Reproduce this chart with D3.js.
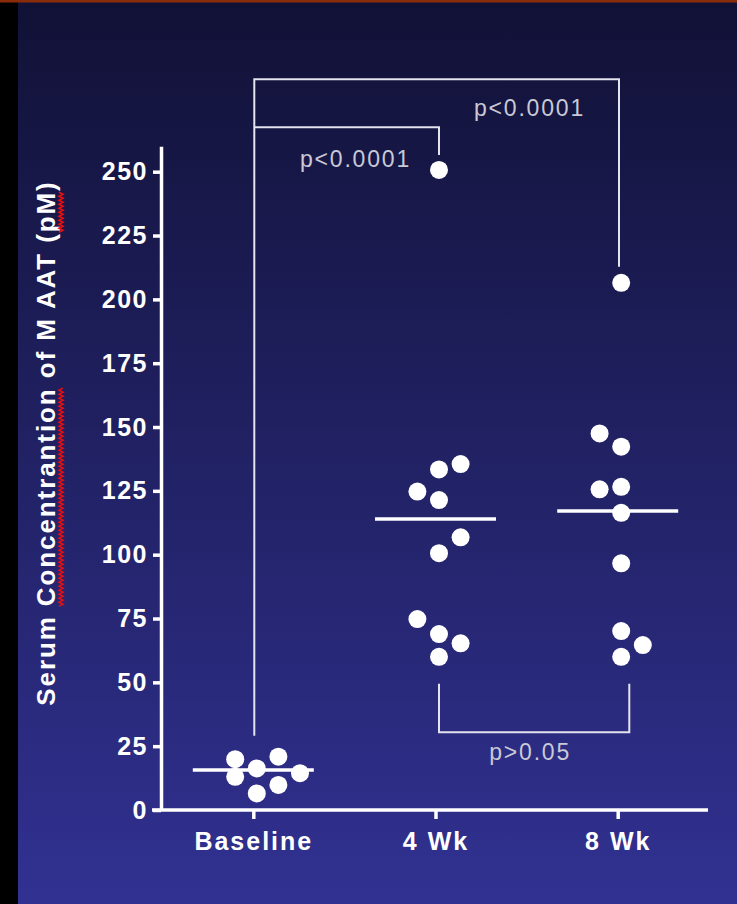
<!DOCTYPE html>
<html>
<head>
<meta charset="utf-8">
<script src="https://cdn.jsdelivr.net/npm/d3@7"></script>
<style>
  html, body { margin: 0; padding: 0; background: #000; }
  svg { display: block; }
</style>
</head>
<body>
<script>
// ---- data -------------------------------------------------------------
const categories = ["Baseline", "4 Wk", "8 Wk"];

// serum M AAT concentration (pM) per subject, with the dodge lane of each dot
const baselineValues = [19.9, 20.9, 13.0, 16.3, 14.4, 9.8, 6.5];
const baselineLanes  = [-1, 1, -1, 0, 2, 1, 0];
const week4Values = [250.7, 135.5, 133.4, 124.7, 121.4, 106.8, 100.6, 74.8, 68.9, 65.3, 60.0];
const week4Lanes  = [0, 1, 0, -1, 0, 1, 0, -1, 0, 1, 0];
const week8Values = [206.5, 147.5, 142.3, 126.6, 125.6, 116.4, 96.6, 70.1, 64.6, 60.0];
const week8Lanes  = [0, -1, 0, 0, -1, 0, 0, 0, 1, 0];

// group means drawn as horizontal bars
const groupMeans = [15.7, 114.0, 117.1];

const yTicks = [0, 25, 50, 75, 100, 125, 150, 175, 200, 225, 250];

const pLabels = ["p<0.0001", "p<0.0001", "p>0.05"];

const yTitle = "Serum Concentrantion of M AAT (pM)";

// ---- layout -----------------------------------------------------------
const W = 737, H = 904;
const svg = d3.select("body").append("svg").attr("width", W).attr("height", H);

const defs = svg.append("defs");
const grad = defs.append("linearGradient").attr("id", "bg")
  .attr("x1", 0).attr("y1", 0).attr("x2", 0).attr("y2", 1);
grad.append("stop").attr("offset", 0).attr("stop-color", "#111136");
grad.append("stop").attr("offset", 1).attr("stop-color", "#313192");

svg.append("rect").attr("width", W).attr("height", H).attr("fill", "#000");
svg.append("rect").attr("x", 18).attr("y", 0).attr("width", W - 18).attr("height", H).attr("fill", "url(#bg)");
svg.append("rect").attr("x", 0).attr("y", 0).attr("width", W).attr("height", 2.5).attr("fill", "#8a2c0a");

const axisX = 161;           // y axis position
const xAxisEnd = 708;
const x = d3.scalePoint().domain(categories).range([253.3, 617.7]);
const y = d3.scaleLinear().domain([0, 260]).range([810, 810 - 260 * 2.5532]);

const laneStep = 21.6, laneBase = 3.5, r = 9;
const groups = [
  { cat: "Baseline", values: baselineValues, lanes: baselineLanes },
  { cat: "4 Wk", values: week4Values, lanes: week4Lanes },
  { cat: "8 Wk", values: week8Values, lanes: week8Lanes }
];
const lx = (cat, lane) => x(cat) + laneBase + lane * laneStep;

const white = "#ffffff";
const bracketColor = "#e4e4ee";
const pColor = "#c9c9d6";

// ---- axes -------------------------------------------------------------
const gy = svg.append("g").attr("transform", `translate(${axisX},0)`)
  .call(d3.axisLeft(y).tickValues(yTicks).tickSize(8).tickSizeOuter(0).tickPadding(5));
gy.select(".domain").attr("stroke", white).attr("stroke-width", 3.5);
gy.selectAll(".tick line").attr("stroke", white).attr("stroke-width", 3.5);
gy.selectAll(".tick text")
  .attr("fill", white)
  .style("font-family", "'Liberation Sans', Arial, sans-serif")
  .style("font-weight", "bold")
  .style("font-size", "25px")
  .style("letter-spacing", "1.5px");

const gx = svg.append("g").attr("transform", `translate(0,${y(0)})`)
  .call(d3.axisBottom(x).tickSize(9).tickSizeOuter(0).tickPadding(13));
gx.select(".domain").remove();
gx.selectAll(".tick line").attr("stroke", white).attr("stroke-width", 3.5);
gx.selectAll(".tick text")
  .attr("fill", white)
  .style("font-family", "'Liberation Sans', Arial, sans-serif")
  .style("font-weight", "bold")
  .style("font-size", "25px")
  .style("letter-spacing", "2px");
gx.append("line")
  .attr("x1", axisX - 9).attr("x2", xAxisEnd)
  .attr("y1", 0).attr("y2", 0)
  .attr("stroke", white).attr("stroke-width", 3.5);

// y axis title with spell-check squiggles
const titleG = svg.append("g").attr("transform", "translate(55,443) rotate(-90)");
const titleText = titleG.append("text")
  .attr("text-anchor", "middle")
  .attr("fill", white)
  .style("font-family", "'Liberation Sans', Arial, sans-serif")
  .style("font-weight", "bold")
  .style("font-size", "26px")
  .style("letter-spacing", "1.9px")
  .text(yTitle);

function squiggle(word) {
  const i0 = yTitle.indexOf(word);
  const node = titleText.node();
  const a = node.getStartPositionOfChar(i0).x;
  const b = node.getEndPositionOfChar(i0 + word.length - 1).x;
  const pts = [];
  for (let t = a, k = 0; t <= b; t += 2, k++) pts.push([t, 6 + (k % 2 ? 2 : -2)]);
  titleG.append("path")
    .attr("d", d3.line()(pts))
    .attr("fill", "none")
    .attr("stroke", "#e81010")
    .attr("stroke-width", 1.6);
}
squiggle("Concentrantion");
squiggle("pM");

// ---- significance brackets -------------------------------------------
const plotTop = y(260);
const outerLevel = plotTop - 67;
const innerLevel = plotTop - 19;
const leftX = x("Baseline") + 1;
const innerRightX = lx("4 Wk", 0);
const outerRightX = x("8 Wk") + 1.3;
const bracket = d3.line();

const bracketG = svg.append("g")
  .attr("fill", "none").attr("stroke", bracketColor).attr("stroke-width", 2);

// Baseline vs 8 Wk
bracketG.append("path").attr("d", bracket([
  [leftX, y(d3.max(baselineValues)) - r - 12],
  [leftX, outerLevel],
  [outerRightX, outerLevel],
  [outerRightX, y(d3.max(week8Values)) - r - 7]
]));
// Baseline vs 4 Wk
bracketG.append("path").attr("d", bracket([
  [leftX, innerLevel],
  [innerRightX, innerLevel],
  [innerRightX, y(d3.max(week4Values)) - r - 6]
]));
// 4 Wk vs 8 Wk (below the dots)
const lowTop = y(d3.min(week4Values)) + r + 18;
const lowBottom = lowTop + 48.5;
const lowLeft = lx("4 Wk", 0);
const lowRight = x("8 Wk") + 11.6;
bracketG.append("path").attr("d", bracket([
  [lowLeft, lowTop], [lowLeft, lowBottom], [lowRight, lowBottom], [lowRight, lowTop]
]));

const pText = (sel) => sel
  .attr("fill", pColor)
  .style("font-family", "'Liberation Sans', Arial, sans-serif")
  .style("font-size", "23px")
  .style("letter-spacing", "1.8px");

svg.append("text").call(pText)
  .attr("text-anchor", "end").attr("x", innerRightX - 28).attr("y", 166.5)
  .text(pLabels[0]);
svg.append("text").call(pText)
  .attr("text-anchor", "end").attr("x", outerRightX - 34).attr("y", 116)
  .text(pLabels[1]);
svg.append("text").call(pText)
  .attr("text-anchor", "middle").attr("x", (lowLeft + lowRight) / 2 - 4).attr("y", lowBottom + 28)
  .text(pLabels[2]);

// ---- mean bars and dots ----------------------------------------------
svg.append("g").selectAll("line")
  .data(categories)
  .join("line")
  .attr("x1", d => x(d) - 60.5)
  .attr("x2", d => x(d) + 60.5)
  .attr("y1", (d, i) => y(groupMeans[i]))
  .attr("y2", (d, i) => y(groupMeans[i]))
  .attr("stroke", white).attr("stroke-width", 3.5);

const dots = groups.flatMap(g => g.values.map((v, i) => ({ cat: g.cat, v, lane: g.lanes[i] })));
svg.append("g").selectAll("circle")
  .data(dots)
  .join("circle")
  .attr("cx", d => lx(d.cat, d.lane))
  .attr("cy", d => y(d.v))
  .attr("r", r)
  .attr("fill", white);
</script>
</body>
</html>
